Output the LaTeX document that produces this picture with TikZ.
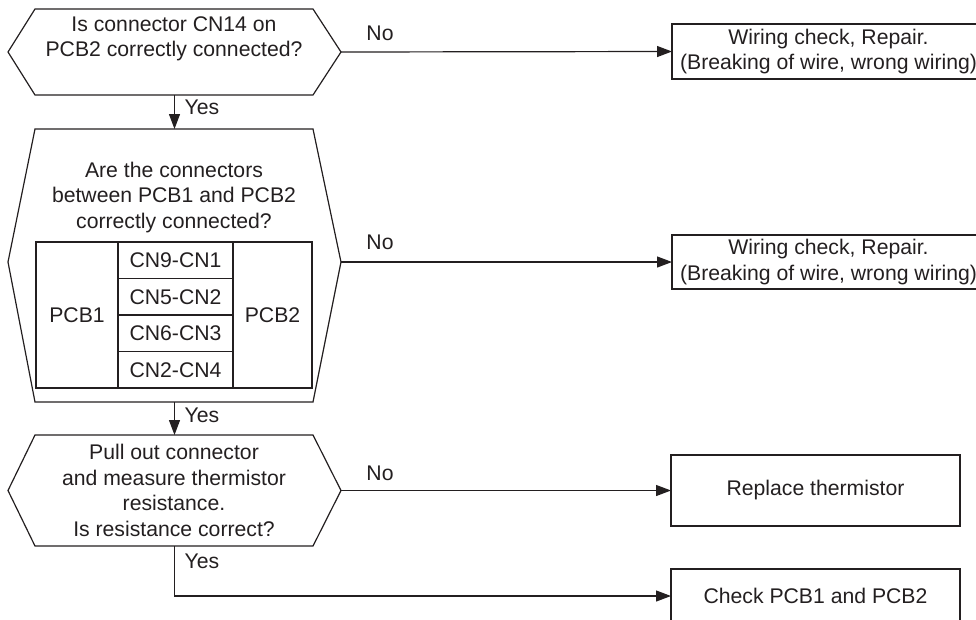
\documentclass[tikz,border=0pt]{standalone}
\usepackage{fontspec}
\setmainfont{Liberation Sans}
\usetikzlibrary{arrows.meta,fit,calc}
\definecolor{ink}{HTML}{231F20}
\newcommand{\flowfont}{\fontsize{21.2pt}{25.5pt}\selectfont}
\begin{document}
\begin{tikzpicture}[x=1pt,y=-1pt,
  line/.style={draw=ink, line width=1.2pt},
  hexfit/.style={inner sep=0pt, outer sep=0pt, draw=none},
  txt/.style={text=ink, font=\flowfont, align=center, inner sep=0pt},
  box/.style={line, text=ink, font=\flowfont, align=center, inner sep=0pt, outer sep=0pt},
  cell/.style={box, minimum width=115pt, minimum height=36.5pt},
  arr/.style={line, -{Triangle[length=15pt,width=11pt]}},
  lbl/.style={text=ink, font=\flowfont, inner sep=0pt}]
\useasboundingbox (0,0) rectangle (976,619);
\clip (0,0) rectangle (976,619);

% decision frames
\node[hexfit, fit={(8,9) (341,95)}] (q1) {};
\node[hexfit, fit={(8,129) (341,402)}] (q2) {};
\node[hexfit, fit={(8,435) (341,546)}] (q3) {};

% tips of the middle frame sit a little above its centre
\coordinate (q2w) at ([yshift=3.5pt]q2.west);
\coordinate (q2e) at ([yshift=3.5pt]q2.east);

\draw[line] (q1.west) -- ([xshift=27pt]q1.north west) -- ([xshift=-28pt]q1.north east)
  -- (q1.east) -- ([xshift=-28pt]q1.south east) -- ([xshift=27pt]q1.south west) -- cycle;
\draw[line] (q2w) -- ([xshift=27pt]q2.north west) -- ([xshift=-28pt]q2.north east)
  -- (q2e) -- ([xshift=-28pt]q2.south east) -- ([xshift=27pt]q2.south west) -- cycle;
\draw[line] (q3.west) -- ([xshift=27pt]q3.north west) -- ([xshift=-28pt]q3.north east)
  -- (q3.east) -- ([xshift=-28pt]q3.south east) -- ([xshift=27pt]q3.south west) -- cycle;

% question texts
\node[txt] (q1t) at (174,39) {Is connector CN14 on\\PCB2 correctly connected?};
\node[txt] (q2t) at (174,197.5) {Are the connectors\\between PCB1 and PCB2\\correctly connected?};
\node[txt] (q3t) at (174,490.5) {Pull out connector\\and measure thermistor\\resistance.\\Is resistance correct?};

% connector table
\node[box, minimum width=82pt, minimum height=146pt] (pcb1) at (77,315) {PCB1};
\node[box, minimum width=79pt, minimum height=146pt] (pcb2) at (272.5,315) {PCB2};
\node[cell] (c1) at (175.5,260.25) {CN9-CN1};
\node[cell] (c2) at (175.5,296.75) {CN5-CN2};
\node[cell] (c3) at (175.5,333.25) {CN6-CN3};
\node[cell] (c4) at (175.5,369.75) {CN2-CN4};

% result boxes
\node[box, minimum width=313pt, minimum height=55pt] (r1) at (828.5,51.5)
  {Wiring check, Repair.\\(Breaking of wire, wrong wiring)};
\node[box, minimum width=313pt, minimum height=54pt] (r2) at (828.5,262)
  {Wiring check, Repair.\\(Breaking of wire, wrong wiring)};
\node[box, minimum width=289pt, minimum height=71pt] (r3) at (815.5,490.5) {Replace thermistor};
\node[box, minimum width=289pt, minimum height=54pt] (r4) at (815.5,596) {Check PCB1 and PCB2};

% flow
\draw[arr] (q1.south) -- (q2.north);
\draw[arr] (q2.south) -- (q3.north);
\draw[arr] (q1.east) -- (r1.west);
\draw[arr] (q2e) -- (q2e -| r2.west);
\draw[arr] (q3.east) -- (r3.west);
\draw[arr] (q3.south) |- (r4.west);

% branch labels
\node[lbl] (y1) at (202,107) {Yes};
\node[lbl] (y2) at (202,415) {Yes};
\node[lbl] (y3) at (202,561) {Yes};
\node[lbl] (n1) at (380,33) {No};
\node[lbl] (n2) at (380,242) {No};
\node[lbl] (n3) at (380,473) {No};
\end{tikzpicture}
\end{document}
